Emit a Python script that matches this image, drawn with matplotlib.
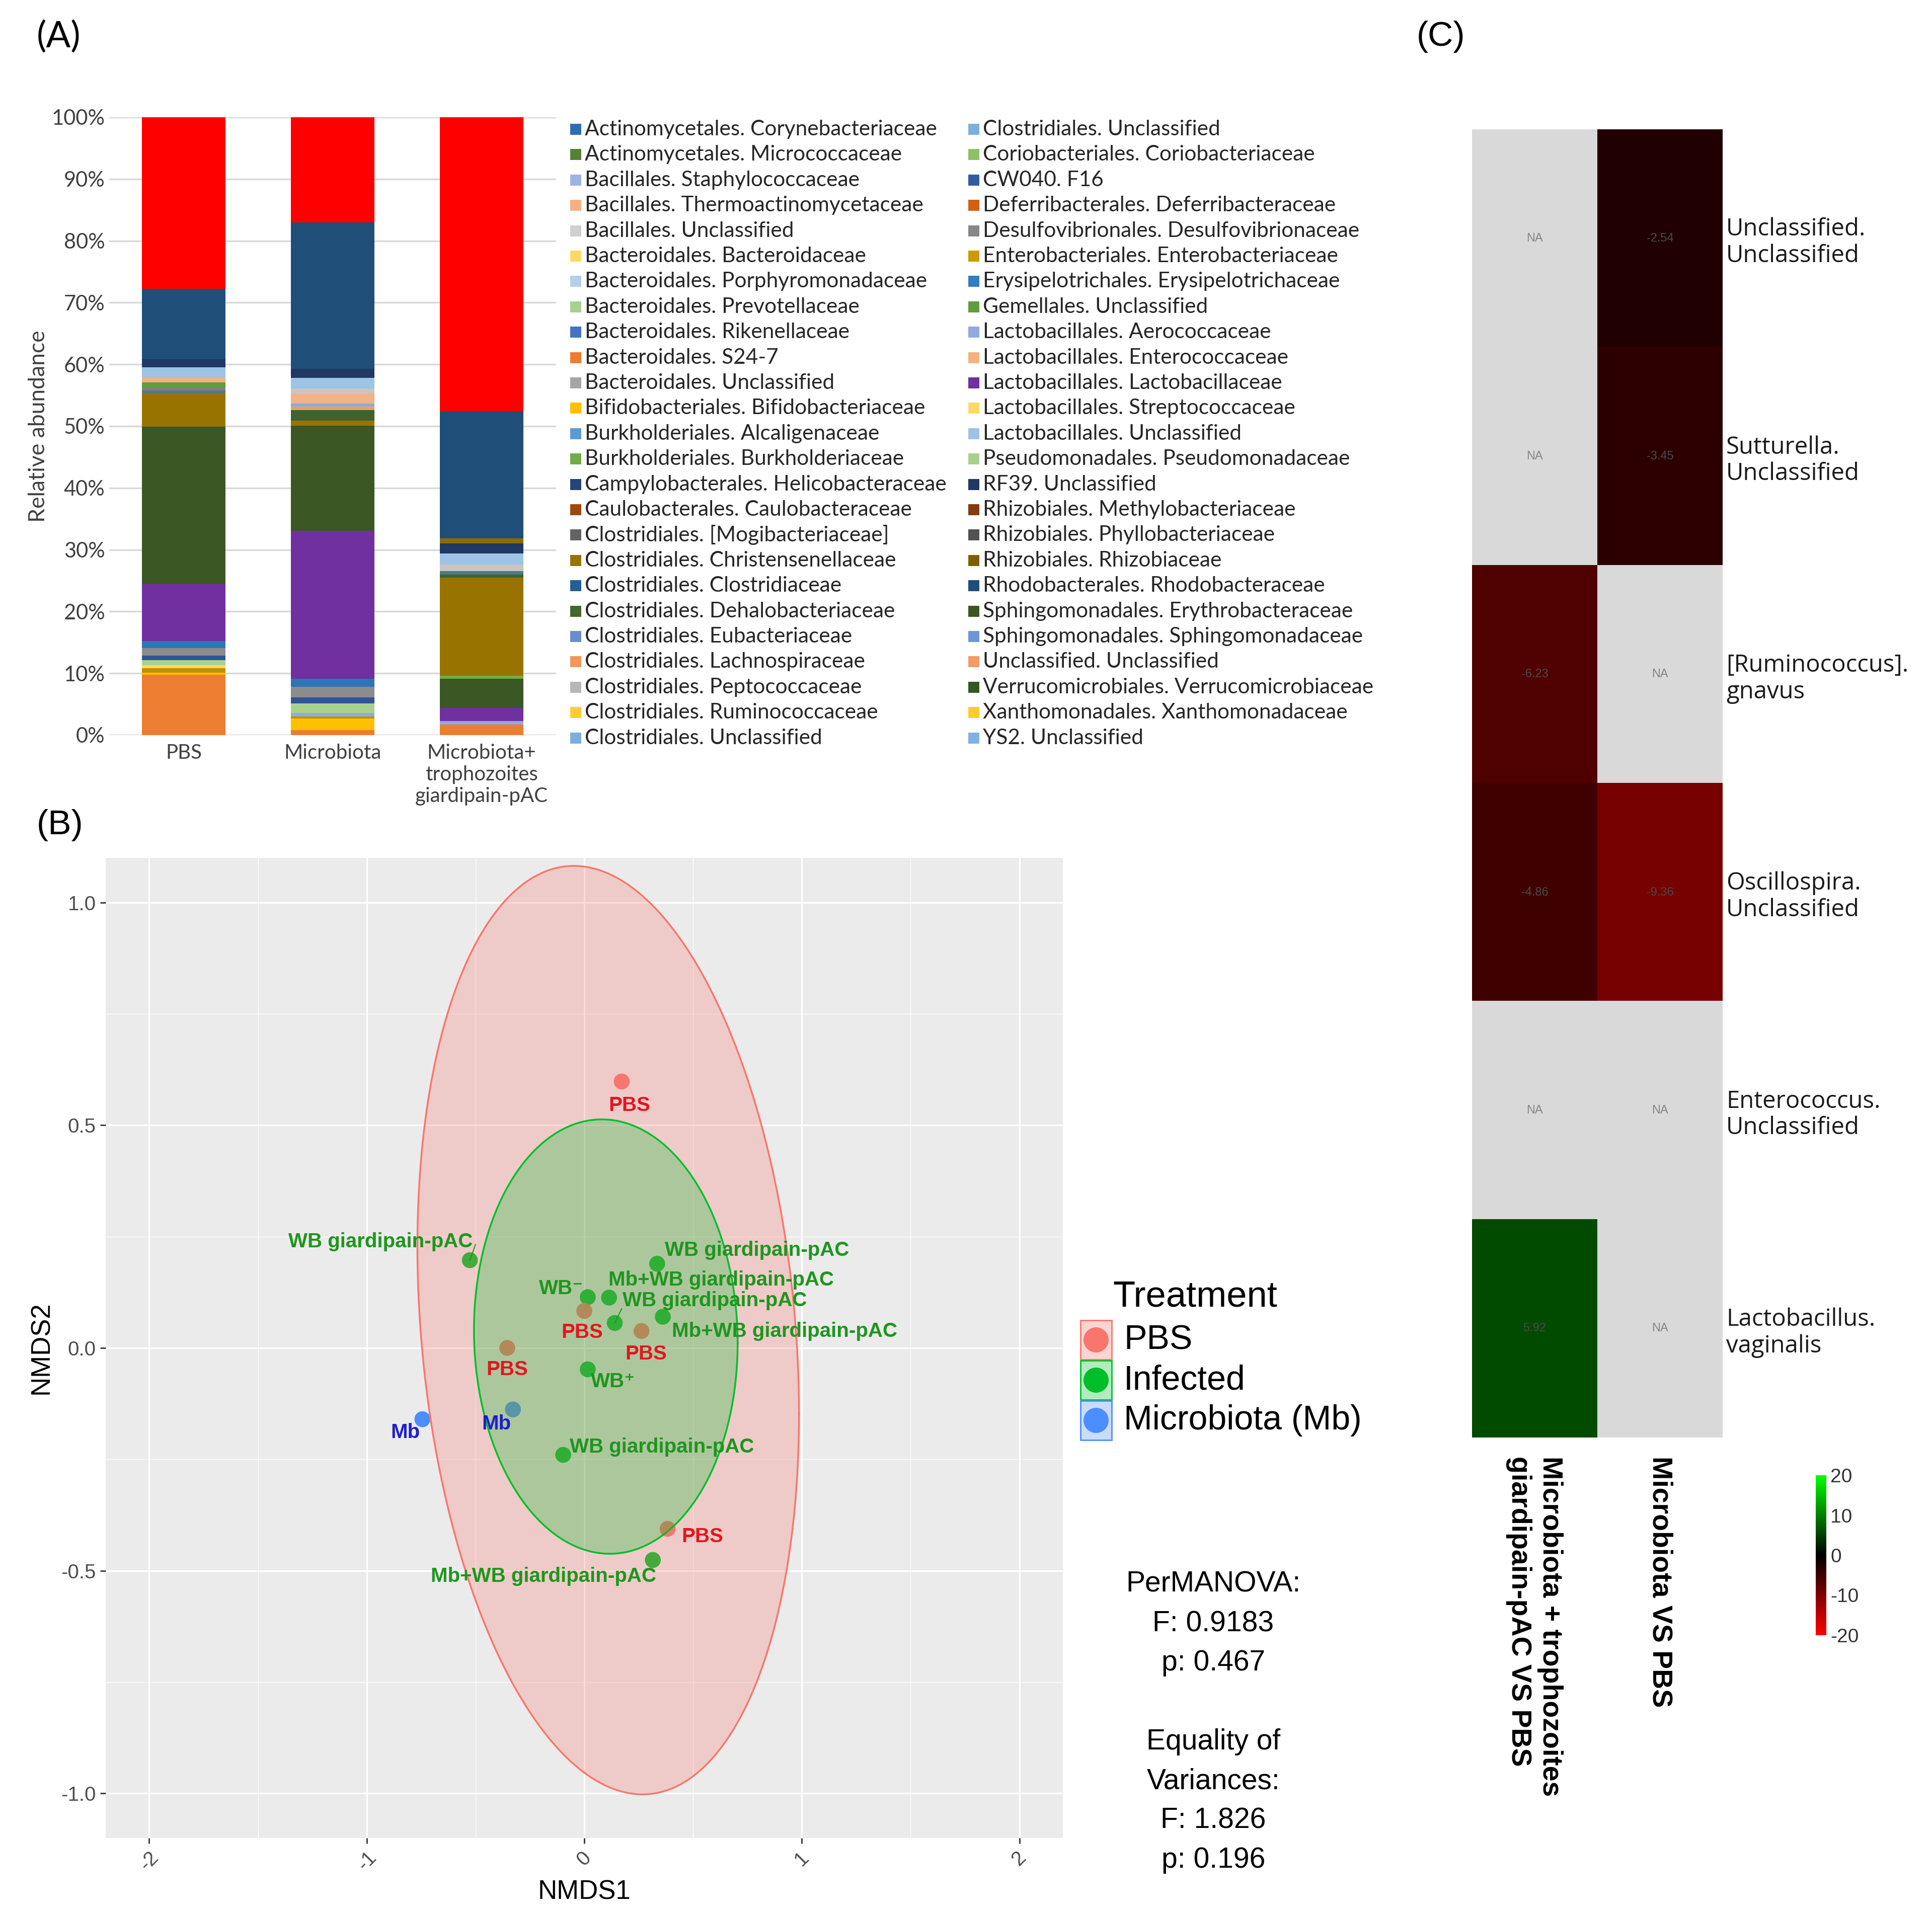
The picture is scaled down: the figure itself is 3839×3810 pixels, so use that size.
import numpy as np
import matplotlib
matplotlib.use("Agg")
import matplotlib.pyplot as plt
from matplotlib.colors import LinearSegmentedColormap
from matplotlib.patches import Rectangle, Circle

plt.rcParams['font.family'] = ['Liberation Sans', 'DejaVu Sans']
plt.rcParams['axes.unicode_minus'] = False

W, H = 3839, 3810
DPI = 100

# ---------------- (A) stacked relative abundance ----------------
groups = ['PBS', 'Microbiota', 'Microbiota+\ntrophozoites\ngiardipain-pAC']

# stacking order, bottom -> top
stack_names = ['Bacteroidales. S24-7', 'Bifidobacteriales. Bifidobacteriaceae',
               'Enterobacteriales. Enterobacteriaceae', 'Lactobacillales. Aerococcaceae',
               'Bacteroidales. Bacteroidaceae', 'Coriobacteriales. Coriobacteriaceae',
               'CW040. F16', 'Desulfovibrionales. Desulfovibrionaceae',
               'Erysipelotrichales. Erysipelotrichaceae', 'Lactobacillales. Lactobacillaceae',
               'Verrucomicrobiales. Verrucomicrobiaceae', 'Burkholderiales. Burkholderiaceae',
               'Clostridiales. Christensenellaceae', 'Sphingomonadales. Erythrobacteraceae',
               'Rhizobiales. Phyllobacteriaceae', 'Bacteroidales. Unclassified',
               'Gemellales. Unclassified', 'Clostridiales. Lachnospiraceae',
               'Sphingomonadales. Sphingomonadaceae', 'Lactobacillales. Enterococcaceae',
               'Bacillales. Unclassified', 'Lactobacillales. Unclassified',
               'RF39. Unclassified', 'Rhizobiales. Rhizobiaceae',
               'Rhodobacterales. Rhodobacteraceae', 'Other']
stack_colors = ['#ED7D31', '#FFC000', '#BF9000', '#8FAADC', '#FFD966', '#A9D18E',
                '#2F5597', '#8C8C8C', '#2E75B6', '#7030A0', '#3A5724', '#70AD47',
                '#997300', '#3E6230', '#4E7A86', '#7F7F7F', '#5F9E3A', '#E2A26A',
                '#8FAADC', '#F4B183', '#CDC3C3', '#9DC3E6', '#203864', '#8C6A00',
                '#1F4E79', '#FF0000']
pbs_vals = [9.8, 0.3, 0.7, 0.0, 0.5, 0.85, 0.75, 1.2, 1.15, 9.2, 25.5, 0.0, 5.45,
            0.0, 0.4, 0.5, 0.75, 0.0, 0.0, 0.8, 0.0, 1.7, 1.3, 0.0, 11.35, 27.8]
mb_vals = [0.85, 1.8, 0.4, 0.5, 0.0, 1.6, 0.95, 1.7, 1.35, 23.9, 17.0, 0.0, 0.85,
           1.7, 0.0, 0.0, 0.0, 0.55, 0.5, 1.6, 0.85, 1.7, 1.5, 0.0, 23.65, 17.05]
mbt_vals = [1.7, 0.0, 0.0, 0.6, 0.0, 0.0, 0.0, 0.0, 0.0, 2.1, 4.7, 0.5, 15.9,
            0.45, 0.6, 0.0, 0.0, 0.0, 0.0, 0.0, 1.05, 1.8, 1.6, 0.85, 20.55, 47.6]

legend_names = ['Actinomycetales. Corynebacteriaceae', 'Actinomycetales. Micrococcaceae',
                'Bacillales. Staphylococcaceae', 'Bacillales. Thermoactinomycetaceae',
                'Bacillales. Unclassified', 'Bacteroidales. Bacteroidaceae',
                'Bacteroidales. Porphyromonadaceae', 'Bacteroidales. Prevotellaceae',
                'Bacteroidales. Rikenellaceae', 'Bacteroidales. S24-7',
                'Bacteroidales. Unclassified', 'Bifidobacteriales. Bifidobacteriaceae',
                'Burkholderiales. Alcaligenaceae', 'Burkholderiales. Burkholderiaceae',
                'Campylobacterales. Helicobacteraceae', 'Caulobacterales. Caulobacteraceae',
                'Clostridiales. [Mogibacteriaceae]', 'Clostridiales. Christensenellaceae',
                'Clostridiales. Clostridiaceae', 'Clostridiales. Dehalobacteriaceae',
                'Clostridiales. Eubacteriaceae', 'Clostridiales. Lachnospiraceae',
                'Clostridiales. Peptococcaceae', 'Clostridiales. Ruminococcaceae',
                'Clostridiales. Unclassified',
                'Clostridiales. Unclassified', 'Coriobacteriales. Coriobacteriaceae',
                'CW040. F16', 'Deferribacterales. Deferribacteraceae',
                'Desulfovibrionales. Desulfovibrionaceae', 'Enterobacteriales. Enterobacteriaceae',
                'Erysipelotrichales. Erysipelotrichaceae', 'Gemellales. Unclassified',
                'Lactobacillales. Aerococcaceae', 'Lactobacillales. Enterococcaceae',
                'Lactobacillales. Lactobacillaceae', 'Lactobacillales. Streptococcaceae',
                'Lactobacillales. Unclassified', 'Pseudomonadales. Pseudomonadaceae',
                'RF39. Unclassified', 'Rhizobiales. Methylobacteriaceae',
                'Rhizobiales. Phyllobacteriaceae', 'Rhizobiales. Rhizobiaceae',
                'Rhodobacterales. Rhodobacteraceae', 'Sphingomonadales. Erythrobacteraceae',
                'Sphingomonadales. Sphingomonadaceae', 'Unclassified. Unclassified',
                'Verrucomicrobiales. Verrucomicrobiaceae', 'Xanthomonadales. Xanthomonadaceae',
                'YS2. Unclassified']
legend_colors = ['#2E6DB4', '#548235', '#9DB4E0', '#F4B183', '#D0D0D0', '#FFD966',
                 '#B4CFEA', '#A9D18E', '#4472C4', '#ED7D31', '#A5A5A5', '#FFC000',
                 '#5B9BD5', '#70AD47', '#264478', '#9E480E', '#636363', '#997300',
                 '#255E91', '#43682B', '#698ED0', '#F1975A', '#B7B7B7', '#FFCD33',
                 '#7CAFDD',
                 '#7CAFDD', '#8CC168', '#335AA1', '#D26012', '#878787', '#CC9A00',
                 '#327DC2', '#5F9E3A', '#8FAADC', '#F4B183', '#7030A0', '#FFD966',
                 '#9DC3E6', '#A9D18E', '#203864', '#843C0C', '#525252', '#7F6000',
                 '#1F4E79', '#385723', '#6F97D6', '#F19B66', '#375623', '#FFCB2E',
                 '#7FB2E0']

# ---------------- (B) NMDS ----------------
nmds1 = [0.172, -0.526, 0.335, 0.016, 0.114, 0.0, 0.140, 0.361,
         0.263, -0.354, 0.016, -0.744, -0.328, -0.097, 0.383, 0.315]
nmds2 = [0.598, 0.197, 0.189, 0.114, 0.113, 0.083, 0.056, 0.070,
         0.038, 0.0, -0.048, -0.160, -0.138, -0.240, -0.406, -0.476]
treatment = ['PBS', 'Infected', 'Infected', 'Infected', 'Infected', 'PBS', 'Infected', 'Infected',
             'PBS', 'PBS', 'Infected', 'Mb', 'Mb', 'Infected', 'PBS', 'Infected']
sample_labels = ['PBS', 'WB giardipain-pAC', 'WB giardipain-pAC', 'WB\u207b',
                 'Mb+WB giardipain-pAC', 'PBS', 'WB giardipain-pAC', 'Mb+WB giardipain-pAC',
                 'PBS', 'PBS', 'WB\u207a', 'Mb', 'Mb', 'WB giardipain-pAC', 'PBS',
                 'Mb+WB giardipain-pAC']
legend_groups = ['PBS', 'Infected', 'Mb']
legend_texts = ['PBS', 'Infected', 'Microbiota (Mb)']
# ellipse per group: centre x, centre y, x radius, y radius, correlation
ellipse_groups = ['PBS', 'Infected']
ell_cx = [0.11, 0.099]
ell_cy = [0.04, 0.0255]
ell_rx = [0.877, 0.606]
ell_ry = [1.042, 0.4875]
ell_rho = [-0.18, -0.03]
stats_text = 'PerMANOVA:\nF: 0.9183\np: 0.467\n\nEquality of\nVariances:\nF: 1.826\np: 0.196'

# ---------------- (C) heatmap ----------------
taxa = ['Unclassified.\nUnclassified', 'Sutturella.\nUnclassified', '[Ruminococcus].\ngnavus',
        'Oscillospira.\nUnclassified', 'Enterococcus.\nUnclassified', 'Lactobacillus.\nvaginalis']
comparisons = ['Microbiota + trophozoites\ngiardipain-pAC VS PBS', 'Microbiota VS PBS']
fc_mbt = [np.nan, np.nan, -6.23, -4.86, np.nan, 5.92]
fc_mb = [-2.54, -3.45, np.nan, -9.36, np.nan, np.nan]

point_colors = {'PBS': '#F8766D', 'Infected': '#00BE2A', 'Mb': '#4C8DFF'}
text_colors = {'PBS': '#E2161E', 'Infected': '#1E961E', 'Mb': '#1C1CD2'}


def box(x0, y0, x1, y1):
    return [x0 / W, 1 - y1 / H, (x1 - x0) / W, (y1 - y0) / H]


fig = plt.figure(figsize=(W / DPI, H / DPI), dpi=DPI)

# ===== panel A =====
axA = fig.add_axes(box(217, 233, 1105, 1461))
xpos = np.arange(len(groups))
bottom = np.zeros(len(groups))
for name, col, a, b, c in zip(stack_names, stack_colors, pbs_vals, mb_vals, mbt_vals):
    v = np.array([a, b, c])
    axA.bar(xpos, v, bottom=bottom, width=0.56, color=col, linewidth=0, zorder=2, label=name)
    bottom += v
axA.set_xlim(-0.5, 2.5)
axA.set_ylim(0, 100)
axA.set_yticks(np.arange(0, 101, 10))
axA.set_yticklabels(['%d%%' % v for v in range(0, 101, 10)], family='Lato', fontsize=30, color='#404040')
axA.set_xticks(xpos)
axA.set_xticklabels(groups, family='Lato', fontsize=29, color='#404040', linespacing=1.2)
axA.tick_params(axis='both', length=0)
axA.tick_params(axis='x', pad=12)
axA.tick_params(axis='y', pad=6)
axA.yaxis.grid(True, color='#D9D9D9', linewidth=2.5, zorder=0)
axA.set_axisbelow(True)
for s in axA.spines.values():
    s.set_visible(False)
axA.set_ylabel('Relative abundance', family='Lato', fontsize=32, color='#404040', labelpad=4)

# ===== panel B =====
axB = fig.add_axes(box(210, 1705, 2112, 3653))
axB.set_facecolor('#EBEBEB')
axB.set_xlim(-2.2, 2.2)
axB.set_ylim(-1.1, 1.1)
axB.set_xticks([-2, -1, 0, 1, 2])
axB.set_xticks([-1.5, -0.5, 0.5, 1.5], minor=True)
axB.set_yticks([-1.0, -0.5, 0.0, 0.5, 1.0])
axB.set_yticks([-0.75, -0.25, 0.25, 0.75], minor=True)
axB.set_yticklabels(['-1.0', '-0.5', '0.0', '0.5', '1.0'], fontsize=29, color='#4D4D4D')
axB.set_xticklabels(['-2', '-1', '0', '1', '2'], fontsize=29, color='#4D4D4D',
                    rotation=45, ha='center', va='top')
axB.grid(True, which='major', color='white', linewidth=2.2)
axB.grid(True, which='minor', color='white', linewidth=1.0)
axB.set_axisbelow(True)
axB.tick_params(which='major', length=8, width=2, color='#333333', pad=6)
axB.tick_params(which='minor', length=0)
for s in axB.spines.values():
    s.set_visible(False)
axB.set_xlabel('NMDS1', fontsize=38, labelpad=8)
axB.set_ylabel('NMDS2', fontsize=38, labelpad=10)

axB.scatter(nmds1, nmds2, s=520, c=[point_colors[g] for g in treatment], linewidths=0, zorder=3)

t = np.linspace(0, 2 * np.pi, 300)
for g, cx, cy, rx, ry, rho in zip(ellipse_groups, ell_cx, ell_cy, ell_rx, ell_ry, ell_rho):
    ex = cx + rx * np.cos(t)
    ey = cy + ry * (rho * np.cos(t) + np.sqrt(1 - rho ** 2) * np.sin(t))
    axB.fill(ex, ey, color=point_colors[g], alpha=0.27, linewidth=0, zorder=4, clip_on=False)
    axB.plot(ex, ey, color=point_colors[g], linewidth=2.5, zorder=4, clip_on=False)

# label placement (order follows the sample arrays)
label_pos = [(0.208, 0.544, 'center'), (-0.513, 0.238, 'right'), (0.370, 0.219, 'left'),
             (-0.003, 0.133, 'right'), (0.110, 0.152, 'left'), (-0.010, 0.035, 'center'),
             (0.175, 0.106, 'left'), (0.403, 0.037, 'left'), (0.283, -0.013, 'center'),
             (-0.354, -0.048, 'center'), (0.030, -0.076, 'left'), (-0.822, -0.190, 'center'),
             (-0.403, -0.170, 'center'), (-0.068, -0.222, 'left'), (0.543, -0.424, 'center'),
             (0.331, -0.513, 'right')]
for (lx, ly, ha), lab, g in zip(label_pos, sample_labels, treatment):
    axB.text(lx, ly, lab, ha=ha, va='center', fontsize=29, fontweight='bold',
             color=text_colors[g], zorder=6, family=['Liberation Sans', 'DejaVu Sans'])
# repel segments
axB.plot([nmds1[6], 0.172], [nmds2[6], 0.088], color=text_colors['Infected'], linewidth=1.5, zorder=5)
axB.plot([nmds1[1], -0.500], [nmds2[1], 0.232], color=text_colors['Infected'], linewidth=1.5, zorder=5)

# ===== panel C =====
axC = fig.add_axes(box(2925, 257, 3423, 2857))
mat = np.ma.masked_invalid(np.array([fc_mbt, fc_mb]).T)
cmap = LinearSegmentedColormap.from_list('redgreen', ['#FF0000', '#000000', '#00FF00'])
cmap.set_bad('#D9D9D9')
im = axC.imshow(mat, cmap=cmap, vmin=-20, vmax=20, aspect='auto', interpolation='nearest')
for i in range(len(taxa)):
    for j, vals in enumerate([fc_mbt, fc_mb]):
        v = vals[i]
        txt = 'NA' if np.isnan(v) else '%.2f' % v
        axC.text(j, i, txt, ha='center', va='center', fontsize=17,
                 color='#858585' if np.isnan(v) else '#4A4A4A')
axC.set_xticks(range(len(comparisons)))
axC.set_xticklabels(comparisons, rotation=270, ha='center', va='top', fontsize=40,
                    fontweight='bold', multialignment='left', linespacing=1.25)
axC.yaxis.tick_right()
axC.set_yticks(range(len(taxa)))
axC.set_yticklabels(taxa, family='Open Sans', fontsize=34, color='#1A1A1A', linespacing=1.15)
axC.tick_params(axis='x', length=0, pad=27)
axC.tick_params(axis='y', length=0, pad=5)
for s in axC.spines.values():
    s.set_visible(False)

cax = fig.add_axes(box(3608, 2932, 3629, 3250))
cb = fig.colorbar(im, cax=cax, ticks=[-20, -10, 0, 10, 20])
cb.outline.set_visible(False)
cax.tick_params(length=0, labelsize=28, pad=6, colors='#333333')

# ===== overlay: panel letters, legends, stats =====
ov = fig.add_axes([0, 0, 1, 1])
ov.set_xlim(0, W)
ov.set_ylim(H, 0)
ov.axis('off')

ov.text(73, 73, '(A)', family='Lato', fontsize=52, ha='left', va='center')
ov.text(73, 1640, '(B)', fontsize=50, ha='left', va='center')
ov.text(2815, 73, '(C)', fontsize=50, ha='left', va='center')

for i, (name, col) in enumerate(zip(legend_names, legend_colors)):
    colx = [1133, 1924][i // 25]
    y = 257 + (i % 25) * 50.4
    ov.add_patch(Rectangle((colx, y - 11), 22, 22, facecolor=col, edgecolor='none'))
    ov.text(colx + 29, y, name, family='Lato', fontsize=30.5, color='#262626', ha='left', va='center')

ov.text(2211, 2578, 'Treatment', fontsize=52, ha='left', va='center')
for k, (g, lab) in enumerate(zip(legend_groups, legend_texts)):
    yc = 2663 + k * 80
    ov.add_patch(Rectangle((2147, yc - 39), 62, 78, facecolor=point_colors[g], alpha=0.3,
                           edgecolor='none'))
    ov.add_patch(Rectangle((2147, yc - 39), 62, 78, facecolor='none', edgecolor=point_colors[g],
                           linewidth=2))
    ov.add_patch(Circle((2178, yc), 25, facecolor=point_colors[g], edgecolor='none'))
    ov.text(2233, yc, lab, fontsize=49, ha='left', va='center')

ov.text(2411, 3423, stats_text, fontsize=41, ha='center', va='center', linespacing=1.58)

fig.savefig('out.png', dpi=DPI)
